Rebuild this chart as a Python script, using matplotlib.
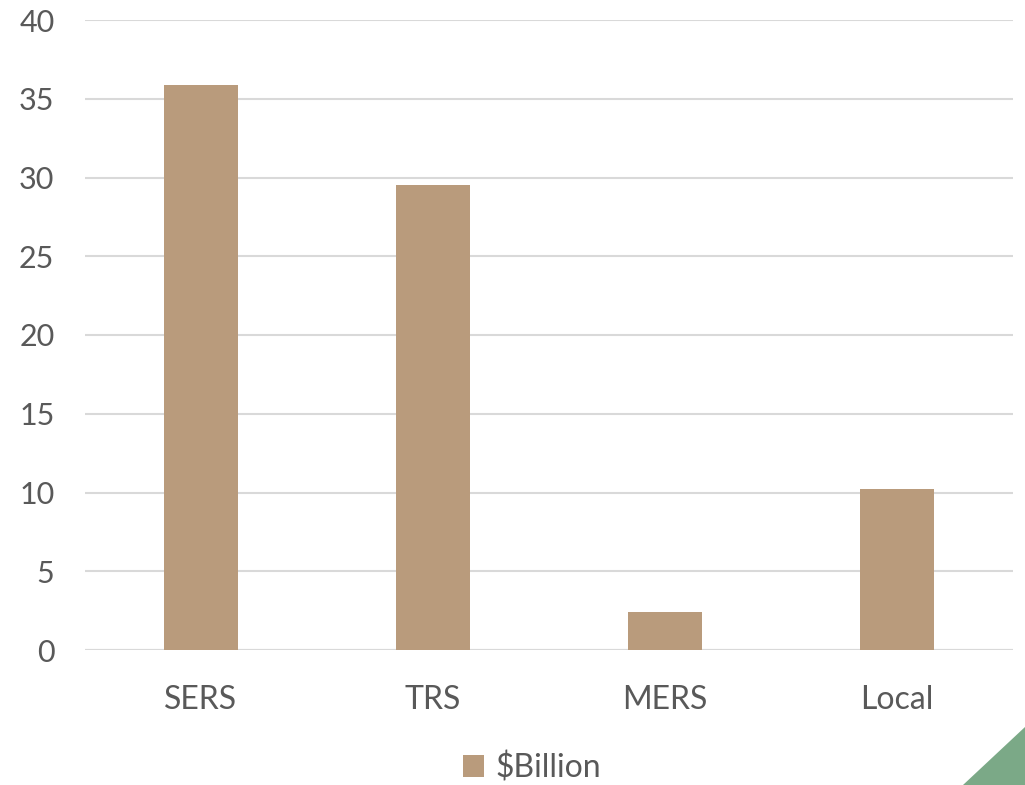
import matplotlib.pyplot as plt
from matplotlib.patches import Polygon

categories = ["SERS", "TRS", "MERS", "Local"]
values = [35.9, 29.5, 2.4, 10.2]
series_name = "$Billion"

BAR_COLOR = "#B99B7C"
TEXT_COLOR = "#595959"
GRID_COLOR = "#D9D9D9"

plt.rcParams["font.family"] = ["Lato", "DejaVu Sans"]

fig = plt.figure(figsize=(10.25, 7.85), dpi=100)
ax = fig.add_axes([85 / 1025, 1 - 650 / 785, (1013 - 85) / 1025, 630 / 785])

x = range(len(categories))
ax.bar(x, values, width=0.315, color=BAR_COLOR, label=series_name, zorder=3)

ax.set_xlim(-0.5, len(categories) - 0.5)
ax.set_ylim(0, 40)
ax.set_yticks(range(0, 41, 5))
ax.set_xticks(list(x))
ax.set_xticklabels(categories)
ax.yaxis.grid(True, color=GRID_COLOR, linewidth=1.5, zorder=0)
ax.tick_params(axis="both", length=0, labelsize=22, labelcolor=TEXT_COLOR)
ax.tick_params(axis="y", pad=22)
ax.tick_params(axis="x", labelsize=23, pad=25)
for s in ax.spines.values():
    s.set_visible(False)
ax.axhline(0, color=GRID_COLOR, linewidth=1.5, zorder=1)

fig.legend(loc="center", bbox_to_anchor=(0.519, 0.022), frameon=False,
           fontsize=23, labelcolor=TEXT_COLOR, handlelength=0.66, handleheight=0.66,
           handletextpad=0.35)

# green corner decoration
tri = Polygon([(963 / 1025, 0), (1, 0), (1, 1 - 727 / 785)], closed=True,
              transform=fig.transFigure, facecolor="#7BA987", edgecolor="none")
fig.patches.append(tri)

fig.savefig("out.png", dpi=100)
